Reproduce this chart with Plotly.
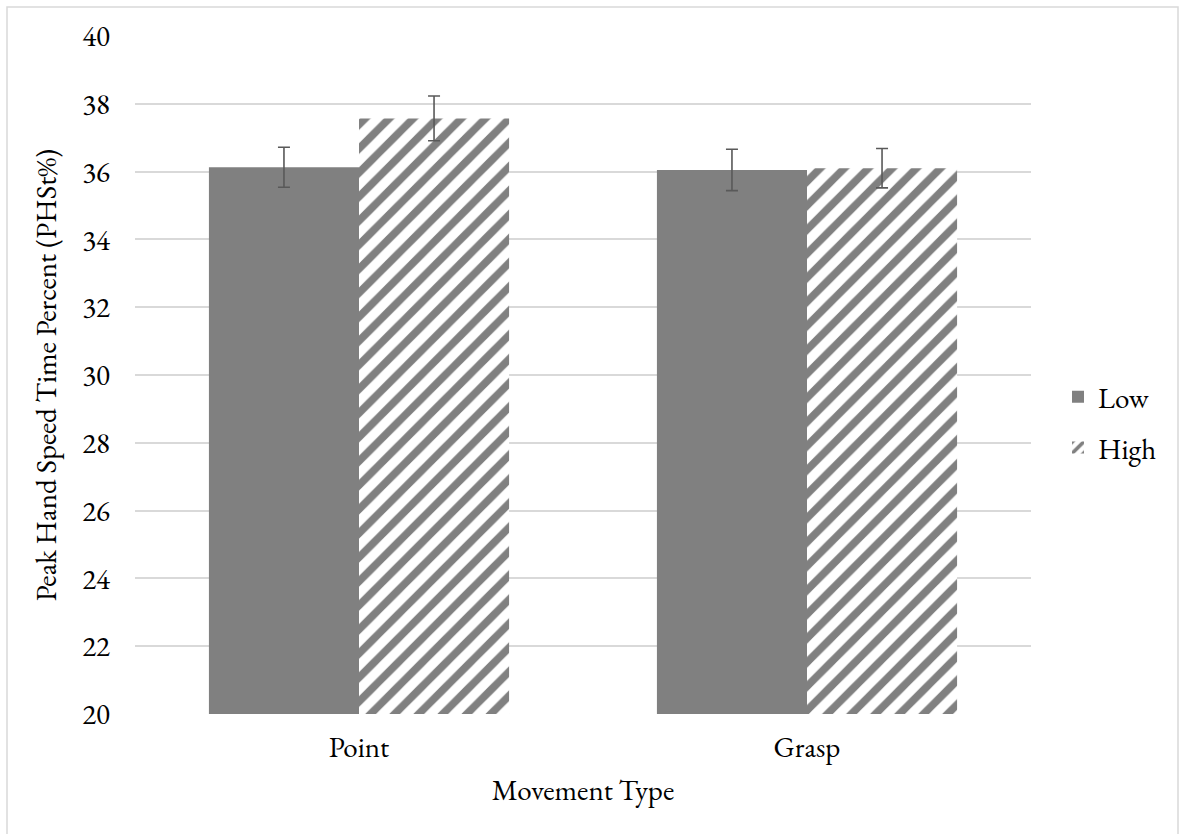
import plotly.graph_objects as go

categories = ["Point", "Grasp"]
low_values = [36.13, 36.05]
low_errors = [0.59, 0.61]
high_values = [37.57, 36.10]
high_errors = [0.66, 0.58]
y_ticks = [20, 22, 24, 26, 28, 30, 32, 34, 36, 38, 40]

FONT = "EB Garamond, Garamond, Liberation Serif, serif"
FS = 29
PW = 896  # plot width in px

fig = go.Figure()
fig.add_trace(go.Bar(
    name="Low", x=categories, y=low_values, legendgroup="a",
    marker=dict(color="#808080", line=dict(width=0)),
    error_y=dict(type="data", array=low_errors, color="#595959", thickness=1.6, width=6),
))
fig.add_trace(go.Bar(
    name="High", x=categories, y=high_values, legendgroup="b",
    marker=dict(color="white", line=dict(width=0),
                pattern=dict(shape="/", fgcolor="#808080", bgcolor="white", size=17,
                             solidity=0.45, fgopacity=1)),
    error_y=dict(type="data", array=high_errors, color="#595959", thickness=1.6, width=6),
))

fig.update_layout(
    width=1179, height=834,
    margin=dict(l=135, r=148, t=36, b=120, autoexpand=False),
    paper_bgcolor="white", plot_bgcolor="white",
    font=dict(family=FONT, size=FS, color="#000000"),
    barmode="group", bargap=0.33, bargroupgap=0,
    showlegend=True,
    legend=dict(x=(1058 - 135) / PW, y=0.43, xanchor="left", yanchor="middle",
                font=dict(size=FS), traceorder="grouped", tracegroupgap=10,
                itemwidth=30, bgcolor="rgba(0,0,0,0)"),
    xaxis=dict(title=dict(text="Movement Type", standoff=14, font=dict(size=FS)),
               showgrid=False, showline=False, ticks="", tickfont=dict(size=FS),
               ticklabelstandoff=13),
    yaxis=dict(title=dict(text="Peak Hand Speed Time Percent (PHSt%)", font=dict(size=FS), standoff=17),
               range=[20, 40], tickvals=y_ticks, showgrid=True, gridcolor="#d9d9d9", gridwidth=1.5,
               zeroline=False, showline=False, ticks="", tickfont=dict(size=FS), ticklabelstandoff=24),
    shapes=[dict(type="rect", xref="paper", yref="paper",
                 x0=(7 - 135) / PW, x1=(1178 - 135) / PW,
                 y0=-0.3, y1=1 + (36 - 7) / 678,
                 line=dict(color="#d9d9d9", width=1.5), fillcolor="rgba(0,0,0,0)", layer="below")],
)

fig.write_html("out.html")
